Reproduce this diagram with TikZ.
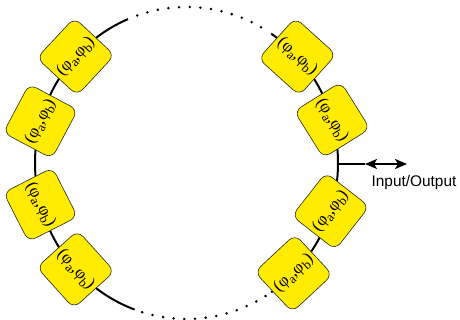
\documentclass[tikz,border=0pt]{standalone}
\usepackage{fontspec}
\newfontfamily\iofont{Liberation Sans}
\newfontfamily\cellfont{Liberation Serif}
\usetikzlibrary{arrows.meta}
\definecolor{cellyellow}{RGB}{255,236,0}
\newcommand\cellsub[1]{\lower3.5pt\hbox{\fontsize{13}{13}\selectfont #1}}
\newcommand\phab{(φ\cellsub{a},φ\cellsub{b})}
\begin{document}
\begin{tikzpicture}[x=1pt,y=1pt,line join=round,>={Stealth[length=12pt,width=10pt,inset=3pt]}]
	\def\cx{186.5} \def\cy{157} \def\rx{151.5} \def\ry{156} % centre and radii of the ring
	\tikzset{ring/.style={line width=2pt},
		dots/.style={line width=2.8pt,line cap=round,dash pattern=on 0pt off 10.7pt},
		cell/.style={draw=black!85,line width=0.6pt,fill=cellyellow,rounded corners=8pt,minimum size=55pt,inner sep=0pt,font=\cellfont\fontsize{17}{17}\selectfont}}
	\useasboundingbox (0,0) rectangle (460,320);
	%\draw[line width=0.1pt,dashed] (0,0) grid[step=20] (460,320);
	\draw[ring,smooth,samples=100,domain=112.7:250] plot({\cx+\rx*cos(\x)},{\cy+\ry*sin(\x)});
	\draw[ring,smooth,samples=100,domain=-56:56] plot({\cx+\rx*cos(\x)},{\cy+\ry*sin(\x)});
	\draw[dots,smooth,samples=100,domain=109:58] plot({\cx+\rx*cos(\x)},{\cy+\ry*sin(\x)});
	\draw[dots,smooth,samples=100,domain=253:302] plot({\cx+\rx*cos(\x)},{\cy+\ry*sin(\x)});
	\foreach \t/\r/\n in {137/47/1,164.5/62/2,195.5/-63/3,223/-48/4,43/-42/5,16/-58/6,-18/52/7,-45/43/8}
		\node[cell,rotate=\r] (c\n) at ({\cx+\rx*cos(\t)},{\cy+\ry*sin(\t)}) {\phab};
	\coordinate (io) at ({\cx+\rx},156);
	\coordinate (ioA) at (365,156);
	\coordinate (ioB) at (407,156);
	\draw[ring] (io)--(ioA);
	\draw[ring,<->] (ioA)--(ioB);
	\node[font=\iofont\fontsize{15.4}{16}\selectfont,anchor=base] (iolabel) at (414,133.3) {Input/Output};
\end{tikzpicture}
\end{document}
